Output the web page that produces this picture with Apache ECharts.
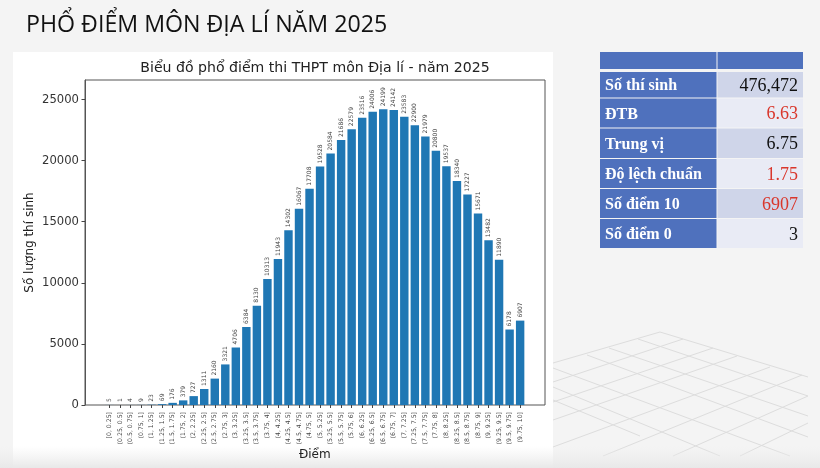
<!DOCTYPE html>
<html><head><meta charset="utf-8">
<style>html,body{margin:0;padding:0;background:#f4f4f4}#c{width:820px;height:468px;filter:blur(0.35px)}</style>
<script src="https://cdn.jsdelivr.net/npm/echarts@6/dist/echarts.min.js"></script>
</head><body><div id="c"></div>
<script>
const categories = ["[0, 0.25]","(0.25, 0.5]","(0.5, 0.75]","(0.75, 1]","(1, 1.25]","(1.25, 1.5]","(1.5, 1.75]","(1.75, 2]","(2, 2.25]","(2.25, 2.5]","(2.5, 2.75]","(2.75, 3]","(3, 3.25]","(3.25, 3.5]","(3.5, 3.75]","(3.75, 4]","(4, 4.25]","(4.25, 4.5]","(4.5, 4.75]","(4.75, 5]","(5, 5.25]","(5.25, 5.5]","(5.5, 5.75]","(5.75, 6]","(6, 6.25]","(6.25, 6.5]","(6.5, 6.75]","(6.75, 7]","(7, 7.25]","(7.25, 7.5]","(7.5, 7.75]","(7.75, 8]","(8, 8.25]","(8.25, 8.5]","(8.5, 8.75]","(8.75, 9]","(9, 9.25]","(9.25, 9.5]","(9.5, 9.75]","(9.75, 10]"];
const counts = [5,1,4,9,23,69,176,379,727,1311,2160,3321,4706,6384,8130,10313,11943,14302,16067,17708,19528,20584,21686,22579,23516,24006,24199,24142,23583,22900,21979,20800,19537,18340,17227,15671,13482,11890,6178,6907];
const yTicks = [0,5000,10000,15000,20000,25000];
const pageTitle = "PHỔ ĐIỂM MÔN ĐỊA LÍ NĂM 2025";
const chartTitle = "Biểu đồ phổ điểm thi THPT môn Địa lí - năm 2025";
const xName = "Điểm";
const yName = "Số lượng thí sinh";
const tableLabels = ["Số thí sinh","ĐTB","Trung vị","Độ lệch chuẩn","Số điểm 10","Số điểm 0"];
const tableValues = ["476,472","6.63","6.75","1.75","6907","3"];
const tableValueRed = [false,true,false,true,true,false];

const SANS = '"DejaVu Sans"';
const SERIF = '"Liberation Serif"';
const g = [];
g.push({type:'rect',z:-30,shape:{x:0,y:0,width:820,height:468},style:{fill:'#f4f4f4'}});
const floor = [
 [[660,332],[808,377]],[[638,339],[808,396]],[[609,348],[808,416]],[[587,355],[808,437]],
 [[553,368],[790,456]],[[553,387],[720,456]],[[553,400],[640,436]],
 [[553,363],[660,332]],[[553,382],[683,339]],[[553,402],[713,348]],[[553,420],[737,356]],
 [[553,447],[770,367]],[[603,456],[802,375]],[[673,456],[808,396]],[[740,456],[808,423]]
];
floor.forEach(l=>g.push({type:'line',z:-28,shape:{x1:l[0][0],y1:l[0][1],x2:l[1][0],y2:l[1][1]},style:{stroke:'#dddddd',lineWidth:1}}));
g.push({type:'rect',z:-26,shape:{x:13,y:52,width:540,height:416},style:{fill:'#ffffff'}});
g.push({type:'rect',z:-24,shape:{x:0,y:446,width:820,height:22},style:{fill:{type:'linear',x:0,y:0,x2:0,y2:1,colorStops:[{offset:0,color:'rgba(238,238,238,0)'},{offset:1,color:'rgba(232,232,232,1)'}]}}});
g.push({type:'text',z:5,style:{x:26,y:25,text:pageTitle,font:'23.2px "Open Sans"',fill:'#111',verticalAlign:'middle',shadowColor:'rgba(0,0,0,0.35)',shadowBlur:2,shadowOffsetX:1,shadowOffsetY:1}});
const rowEdges = [72,98.5,128.5,159,189,219,249];
const colA = 600, colB = 717.5, colEnd = 803;
g.push({type:'rect',z:-20,shape:{x:colA,y:52,width:colB-colA-1,height:17},style:{fill:'#4f71bd'}});
g.push({type:'rect',z:-20,shape:{x:colB,y:52,width:colEnd-colB,height:17},style:{fill:'#4f71bd'}});
tableLabels.forEach((t,i)=>{
  const y=rowEdges[i], h=rowEdges[i+1]-y-1;
  g.push({type:'rect',z:-20,shape:{x:colA,y,width:colB-colA-1,height:h},style:{fill:'#4f71bd'}});
  g.push({type:'rect',z:-20,shape:{x:colB,y,width:colEnd-colB,height:h},style:{fill:i%2?'#e9ebf5':'#cfd5e9'}});
  g.push({type:'text',z:5,style:{x:colA+5,y:y+h/2+1.5,text:t,font:'bold 16px '+SERIF,fill:'#fff',verticalAlign:'middle'}});
  g.push({type:'text',z:5,style:{x:colEnd-5,y:y+h/2+1.5,text:tableValues[i],font:'18px '+SERIF,fill:tableValueRed[i]?'#d9362b':'#111',align:'right',verticalAlign:'middle'}});
});

const yMax = 26600;
const option = {
  animation:false,
  backgroundColor:'transparent',
  title:{text:chartTitle,left:310,top:56,textAlign:'center',textStyle:{fontFamily:SANS,fontSize:14.1,fontWeight:'normal',color:'#222'}},
  graphic:g,
  grid:[
    {left:85,top:80,width:460,height:325,show:true,borderColor:'#555',borderWidth:1,backgroundColor:'transparent'},
    {left:104.2,top:80,width:421.2,height:325}
  ],
  xAxis:[
    {gridIndex:0,type:'value',min:0,max:1,show:false},
    {gridIndex:1,type:'category',data:categories,
     axisLine:{show:false},axisTick:{show:true,alignWithLabel:true,length:3,lineStyle:{color:'#444'}},
     axisLabel:{rotate:90,interval:0,fontFamily:SANS,fontSize:6.2,color:'#444',margin:7,align:'right',verticalAlign:'middle'},
     name:xName,nameLocation:'middle',nameGap:43.5,nameMoveOverlap:false,nameTextStyle:{fontFamily:SANS,fontSize:12,color:'#222'}}
  ],
  yAxis:[
    {gridIndex:0,type:'value',min:0,max:yMax,splitLine:{show:false},
     axisLine:{show:true,lineStyle:{color:'#555'}},
     axisTick:{show:true,length:3.5,customValues:yTicks,lineStyle:{color:'#444'}},
     axisLabel:{customValues:yTicks,formatter:v=>String(v),fontFamily:SANS,fontSize:11.6,color:'#333',margin:6},
     name:yName,nameLocation:'middle',nameGap:49,nameRotate:90,nameMoveOverlap:false,nameTextStyle:{fontFamily:SANS,fontSize:12,color:'#222'}},
    {gridIndex:1,type:'value',min:0,max:yMax,show:false}
  ],
  series:[{type:'bar',xAxisIndex:1,yAxisIndex:1,data:counts,barWidth:'80%',
    itemStyle:{color:'#1f77b4'},
    label:{show:true,position:'top',rotate:90,distance:3,align:'left',verticalAlign:'middle',fontFamily:SANS,fontSize:6,color:'#444'}}]
};
const chart = echarts.init(document.getElementById('c'),null,{renderer:'canvas',width:820,height:468});
chart.setOption(option);
</script></body></html>
